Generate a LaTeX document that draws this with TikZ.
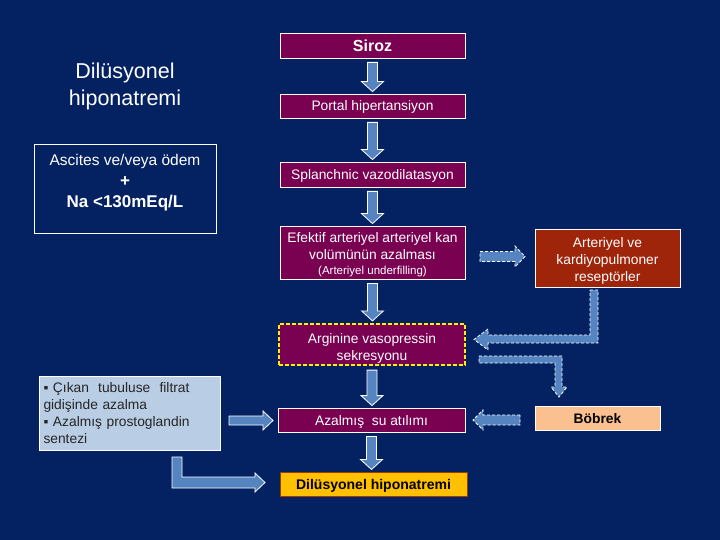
\documentclass[tikz,border=0pt]{standalone}
\usepackage{fontspec}
\setmainfont{Liberation Sans}
\usetikzlibrary{calc}
\definecolor{bgblue}{RGB}{4,33,98}
\definecolor{boxpurple}{RGB}{122,0,82}
\definecolor{arrowblue}{RGB}{86,132,192}
\definecolor{brick}{RGB}{158,36,10}
\definecolor{peach}{RGB}{250,192,144}
\definecolor{gold}{RGB}{255,192,0}
\definecolor{goldedge}{RGB}{160,60,0}
\definecolor{lightblue}{RGB}{185,205,229}
\tikzset{
  pbox/.style={draw=white, line width=0.8pt, fill=boxpurple, text=white, align=center, inner sep=0pt,
    minimum width=185pt, font=\fontsize{13.8}{17}\selectfont},
  oneline/.style={text height=12pt, text depth=2pt},
  blk/.style={fill=arrowblue, draw=white, line width=0.8pt, line join=miter},
  dblk/.style={fill=arrowblue, draw=white, line width=0.8pt, dash pattern=on 3pt off 2pt},
}
\newcommand{\vblk}[2]{%
  \path[blk] let \p1=($(#1.south)+(0,4)$), \p2=($(#2.north)+(0,-2)$) in
  (\x1-5pt,\y1) -- (\x1+5pt,\y1) -- (\x1+5pt,\y2+10pt) -- (\x1+11pt,\y2+10pt) -- (\x1,\y2)
  -- (\x1-11pt,\y2+10pt) -- (\x1-5pt,\y2+10pt) -- cycle;}
\begin{document}
\begin{tikzpicture}[x=1pt,y=-1pt]
\fill[bgblue] (0,0) rectangle (720,540);
\useasboundingbox (0,0) rectangle (720,540);

% centre column
\node[pbox, text height=14pt, text depth=2.5pt, minimum height=25pt, font=\fontsize{16}{18}\selectfont\bfseries] (siroz) at (372.5,45.5) {Siroz};
\node[pbox, oneline, minimum height=24pt] (portal) at (372.5,106) {Portal hipertansiyon};
\node[pbox, oneline, minimum height=25pt] (splanch) at (372.5,174.5) {Splanchnic vazodilatasyon};
\node[pbox, minimum height=53pt] (efektif) at (372.5,252.5)
  {\rule{0pt}{15pt}Efektif arteriyel arteriyel kan\\volümünün azalması\\[-2pt]{\fontsize{11.5}{13}\selectfont(Arteriyel underfilling)}};
\node[pbox, minimum width=186pt, minimum height=41pt, draw=yellow, line width=2.2pt, dash pattern=on 4pt off 2pt] (argin) at (372,344.5)
  {\rule{0pt}{17pt}Arginine vasopressin\\sekresyonu};
\node[pbox, oneline, minimum width=187pt, minimum height=24pt] (azal) at (371.5,420) {Azalmış\ \ su atılımı};
\node[oneline, draw=goldedge, line width=1pt, fill=gold, text=black, minimum width=187pt, minimum height=24pt,
  inner sep=0pt, font=\fontsize{14}{16}\selectfont\bfseries] (dilb) at (373.5,484) {Dilüsyonel hiponatremi};

% right column
\node[draw=white, line width=0.8pt, fill=brick, text=white, align=center, minimum width=145pt, minimum height=58pt,
  inner sep=0pt, font=\fontsize{13.8}{17}\selectfont] (arter) at (607.5,258)
  {\rule{0pt}{15pt}Arteriyel ve\\kardiyopulmoner\\reseptörler};
\node[oneline, draw=white, line width=0.8pt, fill=peach, text=black, minimum width=125pt, minimum height=24pt,
  inner sep=0pt, font=\fontsize{13.8}{16}\selectfont\bfseries] (bobrek) at (597.5,418) {Böbrek};

% left column
\node[text=white, align=center, font=\fontsize{21.5}{27}\selectfont] (title) at (125,86) {Dilüsyonel\\hiponatremi};
\node[draw=white, line width=0.8pt, minimum width=182pt, minimum height=89pt, inner sep=0pt] (asc) at (125,188.5) {};
\node[text=white, align=center, inner sep=0pt, font=\fontsize{17}{21}\selectfont\bfseries] (asctext) at (125,182.5)
  {{\mdseries\fontsize{15.5}{21}\selectfont Ascites ve/veya ödem}\\+\\Na <130mEq/L};
\node[draw=white, line width=0.8pt, fill=lightblue, text=black!85, align=left, minimum width=181pt, minimum height=74pt,
  inner sep=0pt, font=\fontsize{13.8}{17}\selectfont, text width=172pt] (lbox) at (129.5,413)
  {▪ Çıkan\ \ tubuluse\ \ filtrat\\gidişinde azalma\\▪ Azalmış prostoglandin\\sentezi};

% vertical block arrows
\vblk{siroz}{portal}
\vblk{portal}{splanch}
\vblk{splanch}{efektif}
\vblk{efektif}{argin}
\vblk{argin}{azal}
\vblk{azal}{dilb}

% dashed arrow efektif -> arteriyel
\path[dblk] (480,251.5) -- (515,251.5) -- (515,246) -- (525,256.5) -- (515,267) -- (515,261.5) -- (480,261.5) -- cycle;
% dashed elbow arteriyel -> arginine
\path[dblk] (590,290) -- (598,290) -- (598,343) -- (488,343) -- (488,350) -- (474,339.5) -- (488,329) -- (488,335) -- (590,335) -- cycle;
% dashed elbow -> bobrek
\path[dblk] (479,356) -- (562,356) -- (562,387) -- (567,387) -- (559,397) -- (551,387) -- (555,387) -- (555,363) -- (479,363) -- cycle;
% dashed arrow bobrek -> azalmis
\path[dblk] (520,415) -- (483,415) -- (483,410) -- (473,420) -- (483,430) -- (483,425) -- (520,425) -- cycle;
% solid arrow left box -> azalmis
\path[blk] (229,416) -- (263,416) -- (263,411) -- (273,420.5) -- (263,430) -- (263,425) -- (229,425) -- cycle;
% solid elbow left box -> dilusyonel
\path[blk] (172,457) -- (182,457) -- (182,477) -- (255,477) -- (255,473) -- (265,482.5) -- (255,492) -- (255,488) -- (172,488) -- cycle;
\end{tikzpicture}
\end{document}
